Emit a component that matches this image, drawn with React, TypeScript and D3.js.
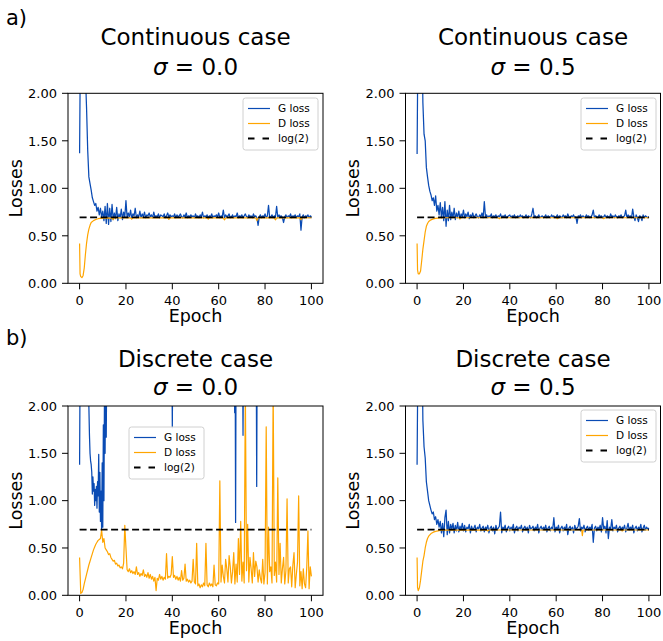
import React from 'react';
import * as d3 from 'd3';

const FONT = '"DejaVu Sans", Verdana, sans-serif';
const G_COLOR = '#0a4bb4';
const D_COLOR = '#ffa500';
const LOG2 = Math.log(2);
const STEP = 0.5; // epochs between stored samples

const X_TICKS = [0, 20, 40, 60, 80, 100];
const Y_TICKS = [0, 0.5, 1, 1.5, 2];
const LEGEND_LABELS = ['G loss', 'D loss', 'log(2)'];

// ---- a) Continuous, sigma = 0.0 : G loss every 0.5 epoch ----
const G_CONT_S00 = [
  1.37, 3.0, 3.0, 2.8, 2.5, 2.2, 1.85, 1.4, 1.12, 1.05, 0.98, 0.9, 0.86, 0.82, 0.84, 0.76, 0.8, 0.72, 0.79, 0.7,
  0.76, 0.66, 0.81, 0.63, 0.84, 0.62, 0.79, 0.65, 0.83, 0.67, 0.74, 0.68, 0.8, 0.66, 0.73, 0.69, 0.78, 0.67, 0.75, 0.7,
  0.87, 0.69, 0.74, 0.7, 0.77, 0.68, 0.73, 0.71, 0.79, 0.69, 0.72, 0.7, 0.76, 0.69, 0.73, 0.7, 0.75, 0.69, 0.72, 0.71,
  0.74, 0.7, 0.72, 0.69, 0.75, 0.7, 0.71, 0.7, 0.73, 0.69, 0.72, 0.71, 0.7, 0.73, 0.69, 0.71, 0.74, 0.7, 0.72, 0.7,
  0.71, 0.7, 0.73, 0.69, 0.72, 0.7, 0.71, 0.73, 0.7, 0.69, 0.72, 0.7, 0.74, 0.69, 0.71, 0.7, 0.72, 0.7, 0.71, 0.69,
  0.73, 0.7, 0.71, 0.69, 0.72, 0.7, 0.75, 0.69, 0.71, 0.7, 0.72, 0.69, 0.71, 0.7, 0.73, 0.69, 0.71, 0.7, 0.72, 0.7,
  0.74, 0.69, 0.71, 0.7, 0.77, 0.69, 0.72, 0.7, 0.71, 0.73, 0.69, 0.7, 0.72, 0.69, 0.71, 0.7, 0.74, 0.69, 0.71, 0.7,
  0.72, 0.69, 0.71, 0.73, 0.7, 0.69, 0.72, 0.7, 0.71, 0.69, 0.73, 0.7, 0.71, 0.69, 0.61, 0.7, 0.72, 0.69, 0.71, 0.7,
  0.73, 0.69, 0.71, 0.82, 0.69, 0.7, 0.72, 0.69, 0.71, 0.7, 0.81, 0.69, 0.72, 0.7, 0.71, 0.69, 0.64, 0.7, 0.72, 0.69,
  0.71, 0.7, 0.73, 0.69, 0.71, 0.7, 0.72, 0.69, 0.71, 0.7, 0.73, 0.56, 0.7, 0.72, 0.69, 0.71, 0.7, 0.72, 0.69, 0.71, 0.7,
];
const D_CONT_S00: [number, number][] = [
  [0, 0.42], [0.2, 0.1], [0.5, 0.07], [1, 0.06], [1.5, 0.08], [2, 0.16], [2.5, 0.3], [3, 0.42], [3.5, 0.51],
  [4, 0.57], [4.5, 0.61], [5, 0.64], [6, 0.66], [7, 0.672], [8, 0.68], [9, 0.683], [10, 0.686], [12, 0.688],
  [14, 0.685], [14.5, 0.67], [15, 0.688], [22, 0.688], [22.5, 0.675], [23, 0.688], [38, 0.688], [38.5, 0.672],
  [39, 0.688], [55, 0.688], [55.5, 0.675], [56, 0.688], [62, 0.688], [62.5, 0.668], [63, 0.688], [76, 0.688],
  [76.5, 0.66], [77, 0.688], [84, 0.688], [84.5, 0.668], [85, 0.688], [95, 0.688], [95.5, 0.67], [96, 0.688],
  [100, 0.69],
];

// ---- a) Continuous, sigma = 0.5 ----
const G_CONT_S05 = [
  1.36, 3.0, 3.0, 3.0, 2.8, 1.9, 1.57, 1.5, 1.22, 1.12, 1.03, 0.97, 0.93, 0.87, 0.9, 0.82, 0.92, 0.76, 0.82, 0.72,
  0.85, 0.69, 0.8, 0.66, 0.86, 0.6, 0.77, 0.66, 0.82, 0.67, 0.75, 0.69, 0.79, 0.67, 0.74, 0.69, 0.76, 0.68, 0.73, 0.7,
  0.77, 0.69, 0.73, 0.7, 0.75, 0.68, 0.72, 0.7, 0.74, 0.69, 0.71, 0.73, 0.7, 0.69, 0.72, 0.7, 0.74, 0.69, 0.86, 0.7,
  0.72, 0.69, 0.71, 0.7, 0.73, 0.69, 0.71, 0.7, 0.72, 0.69, 0.71, 0.7, 0.73, 0.69, 0.71, 0.7, 0.72, 0.69, 0.7, 0.71,
  0.72, 0.69, 0.71, 0.7, 0.72, 0.69, 0.7, 0.71, 0.69, 0.72, 0.7, 0.71, 0.69, 0.7, 0.72, 0.69, 0.71, 0.7, 0.69, 0.73,
  0.79, 0.7, 0.71, 0.69, 0.7, 0.72, 0.69, 0.7, 0.71, 0.69, 0.7, 0.72, 0.69, 0.71, 0.7, 0.69, 0.72, 0.7, 0.71, 0.69,
  0.7, 0.72, 0.69, 0.71, 0.7, 0.69, 0.72, 0.7, 0.71, 0.69, 0.73, 0.7, 0.69, 0.71, 0.7, 0.72, 0.69, 0.7, 0.63, 0.71,
  0.7, 0.72, 0.69, 0.71, 0.7, 0.69, 0.72, 0.7, 0.71, 0.69, 0.7, 0.72, 0.77, 0.69, 0.71, 0.7, 0.69, 0.72, 0.7, 0.71,
  0.69, 0.7, 0.72, 0.69, 0.71, 0.7, 0.69, 0.73, 0.7, 0.71, 0.69, 0.72, 0.7, 0.69, 0.71, 0.7, 0.72, 0.69, 0.7, 0.71,
  0.77, 0.69, 0.72, 0.7, 0.71, 0.69, 0.78, 0.7, 0.66, 0.72, 0.69, 0.65, 0.71, 0.7, 0.66, 0.72, 0.69, 0.71, 0.7, 0.69, 0.7,
];
const D_CONT_S05: [number, number][] = [
  [0, 0.42], [0.2, 0.14], [0.5, 0.1], [1, 0.1], [1.5, 0.13], [2, 0.24], [2.5, 0.36], [3, 0.45], [3.5, 0.54],
  [4, 0.6], [4.5, 0.63], [5, 0.65], [6, 0.668], [7, 0.678], [8, 0.684], [10, 0.688], [12, 0.69], [18, 0.69],
  [18.5, 0.678], [19, 0.69], [35, 0.69], [35.5, 0.68], [36, 0.69], [60, 0.69], [60.5, 0.68], [61, 0.69],
  [80, 0.69], [80.5, 0.68], [81, 0.69], [100, 0.69],
];

// ---- b) Discrete, sigma = 0.0 : G loss is mostly above the plotted range ----
const G_DISC_S00: [number, number][] = [
  [0, 1.38], [0.25, 2.6], [3.75, 2.6], [4.0, 2.0], [4.25, 1.7], [4.5, 1.5], [4.75, 1.42], [5, 1.38], [5.25, 1.3],
  [5.5, 1.07], [5.75, 1.25], [6, 1.1], [6.25, 1.18], [6.5, 0.95], [6.75, 1.12], [7, 1.0], [7.25, 1.15], [7.5, 0.92],
  [7.75, 1.2], [8, 1.05], [8.25, 1.49], [8.5, 0.88], [8.75, 1.3], [9, 0.78], [9.25, 1.1], [9.5, 0.7], [9.75, 1.4],
  [10, 0.72], [10.25, 1.8], [10.5, 1.0], [10.75, 2.2], [11, 1.5], [11.25, 2.4], [11.5, 1.67], [11.75, 2.6], [12, 2.6],
  [39.8, 2.6], [40, 1.77], [40.2, 2.6], [66.7, 2.6], [66.9, 1.93], [67.1, 2.6], [67.3, 0.77], [67.5, 2.6],
  [70.3, 2.6], [70.5, 1.69], [70.7, 2.6], [76.2, 2.6], [76.4, 1.15], [76.6, 2.6], [100, 2.6],
];
const D_DISC_S00 = [
  0.4, 0.02, 0.03, 0.06, 0.12, 0.17, 0.22, 0.27, 0.32, 0.36, 0.4, 0.44, 0.48, 0.51, 0.54, 0.56, 0.58, 0.59, 0.6, 0.69,
  0.56, 0.6, 0.5, 0.48, 0.46, 0.43, 0.44, 0.4, 0.38, 0.36, 0.37, 0.33, 0.34, 0.31, 0.32, 0.29, 0.3, 0.28, 0.34, 0.74,
  0.5, 0.27, 0.25, 0.28, 0.24, 0.26, 0.23, 0.25, 0.22, 0.3, 0.22, 0.24, 0.2, 0.23, 0.21, 0.27, 0.2, 0.22, 0.19, 0.24,
  0.18, 0.22, 0.17, 0.2, 0.15, 0.19, 0.05, 0.18, 0.16, 0.22, 0.17, 0.2, 0.16, 0.19, 0.17, 0.44, 0.18, 0.2, 0.19, 0.22,
  0.41, 0.19, 0.21, 0.17, 0.2, 0.16, 0.19, 0.15, 0.26, 0.16, 0.18, 0.33, 0.15, 0.17, 0.14, 0.16, 0.13, 0.15, 0.38, 0.14,
  0.12, 0.55, 0.1, 0.12, 0.08, 0.11, 0.09, 0.13, 0.1, 0.55, 0.11, 0.09, 0.13, 0.1, 0.12, 0.09, 0.32, 0.11, 0.1, 0.13,
  0.12, 1.21, 0.14, 0.32, 0.2, 0.13, 0.38, 0.28, 0.14, 0.42, 0.3, 0.13, 0.25, 0.45, 0.12, 0.33, 0.14, 0.6, 0.22, 0.78,
  0.15, 0.35, 0.13, 2.2, 0.26, 0.75, 0.14, 0.4, 0.28, 0.13, 0.45, 0.2, 0.36, 0.3, 0.14, 0.27, 0.18, 0.13, 0.38, 0.12,
  0.24, 1.78, 0.12, 0.72, 0.25, 0.3, 0.13, 2.2, 0.21, 0.35, 0.14, 1.24, 0.22, 0.55, 0.13, 0.28, 0.4, 0.12, 0.26, 1.02,
  0.13, 0.28, 0.3, 0.09, 0.32, 0.45, 0.08, 0.22, 0.35, 1.05, 0.1, 0.25, 0.07, 0.28, 0.12, 0.08, 0.3, 0.68, 0.07, 0.3, 0.2,
];

// ---- b) Discrete, sigma = 0.5 ----
const G_DISC_S05 = [
  1.38, 3.0, 3.0, 3.0, 2.9, 1.85, 1.57, 1.45, 1.2, 1.1, 1.0, 0.95, 0.9, 0.86, 0.88, 0.8, 0.83, 0.75, 0.8, 0.72,
  0.78, 0.66, 0.76, 0.62, 0.82, 0.9, 0.64, 0.78, 0.66, 0.75, 0.7, 0.76, 0.66, 0.74, 0.68, 0.77, 0.67, 0.73, 0.7, 0.76,
  0.68, 0.74, 0.67, 0.72, 0.7, 0.75, 0.66, 0.73, 0.69, 0.71, 0.74, 0.67, 0.72, 0.7, 0.75, 0.68, 0.71, 0.73, 0.67, 0.72,
  0.7, 0.74, 0.66, 0.71, 0.73, 0.68, 0.72, 0.65, 0.74, 0.69, 0.71, 0.73, 0.88, 0.66, 0.72, 0.7, 0.74, 0.67, 0.71, 0.73,
  0.68, 0.72, 0.7, 0.75, 0.66, 0.71, 0.73, 0.68, 0.72, 0.7, 0.74, 0.67, 0.71, 0.73, 0.69, 0.72, 0.66, 0.74, 0.7, 0.71,
  0.73, 0.68, 0.72, 0.7, 0.75, 0.66, 0.71, 0.73, 0.69, 0.72, 0.7, 0.74, 0.67, 0.71, 0.73, 0.68, 0.72, 0.7, 0.82, 0.67,
  0.72, 0.7, 0.74, 0.66, 0.71, 0.73, 0.68, 0.72, 0.7, 0.75, 0.64, 0.71, 0.73, 0.69, 0.72, 0.66, 0.74, 0.7, 0.71, 0.73,
  0.81, 0.68, 0.72, 0.7, 0.74, 0.67, 0.71, 0.73, 0.69, 0.72, 0.7, 0.75, 0.56, 0.71, 0.73, 0.68, 0.72, 0.7, 0.74, 0.67,
  0.82, 0.7, 0.73, 0.66, 0.79, 0.6, 0.72, 0.7, 0.8, 0.68, 0.72, 0.7, 0.74, 0.67, 0.71, 0.73, 0.69, 0.72, 0.7, 0.74,
  0.67, 0.71, 0.76, 0.69, 0.72, 0.7, 0.74, 0.66, 0.71, 0.73, 0.68, 0.72, 0.7, 0.75, 0.67, 0.71, 0.74, 0.69, 0.72, 0.7, 0.71,
];
const D_DISC_S05: [number, number][] = [
  [0, 0.4], [0.2, 0.08], [0.5, 0.05], [1, 0.08], [1.5, 0.16], [2, 0.26], [2.5, 0.36], [3, 0.42], [3.5, 0.5],
  [4, 0.56], [4.5, 0.6], [5, 0.625], [6, 0.652], [7, 0.667], [8, 0.676], [9, 0.681], [10, 0.685], [12, 0.688],
  [30, 0.69], [30.5, 0.68], [31, 0.69], [71, 0.69], [71.3, 0.63], [71.6, 0.69], [88, 0.69], [88.5, 0.68],
  [89, 0.69], [100, 0.69],
];

const stepped = (arr: number[]): [number, number][] => arr.map((v, i) => [i * STEP, v]);

type PanelDef = {
  id: string;
  left: number; right: number; top: number; bottom: number;
  title: string; sigma: string; titleY: [number, number];
  g: [number, number][]; d: [number, number][];
  legend: [number, number];
};

const TOP_ROW = { top: 93.3, bottom: 283.3, titleY: [45, 75] as [number, number] };
const BOT_ROW = { top: 406, bottom: 595.3, titleY: [366.5, 394.5] as [number, number] };
const LEFT_COL = { left: 68, right: 323 };
const RIGHT_COL = { left: 405.5, right: 660.5 };

const PANELS: PanelDef[] = [
  { id: 'a1', ...LEFT_COL, ...TOP_ROW, title: 'Continuous case', sigma: '0.0', g: stepped(G_CONT_S00), d: D_CONT_S00, legend: [243, 98] },
  { id: 'a2', ...RIGHT_COL, ...TOP_ROW, title: 'Continuous case', sigma: '0.5', g: stepped(G_CONT_S05), d: D_CONT_S05, legend: [581, 98] },
  { id: 'b1', ...LEFT_COL, ...BOT_ROW, title: 'Discrete case', sigma: '0.0', g: G_DISC_S00, d: stepped(D_DISC_S00), legend: [129, 427] },
  { id: 'b2', ...RIGHT_COL, ...BOT_ROW, title: 'Discrete case', sigma: '0.5', g: stepped(G_DISC_S05), d: D_DISC_S05, legend: [581, 410] },
];

const fmt = d3.format('.2f');

function Panel({ p }: { p: PanelDef }) {
  const x = d3.scaleLinear().domain([-5, 105]).range([p.left, p.right]);
  const y = d3.scaleLinear().domain([0, 2]).range([p.bottom, p.top]);
  const line = d3.line<[number, number]>().x((d) => x(d[0])).y((d) => y(d[1]));
  const cx = (p.left + p.right) / 2;
  const cy = (p.top + p.bottom) / 2;
  const [lx, ly] = p.legend;
  return (
    <g>
      <defs>
        <clipPath id={`clip-${p.id}`}>
          <rect x={p.left} y={p.top} width={p.right - p.left} height={p.bottom - p.top} />
        </clipPath>
      </defs>
      <text x={cx} y={p.titleY[0]} textAnchor="middle" fontSize={23} fontFamily={FONT}>{p.title}</text>
      <text x={cx} y={p.titleY[1]} textAnchor="middle" fontSize={23} fontFamily={FONT}>
        <tspan fontStyle="italic">σ</tspan>
        <tspan>{` = ${p.sigma}`}</tspan>
      </text>
      <g clipPath={`url(#clip-${p.id})`}>
        <path d={line(p.g) || ''} fill="none" stroke={G_COLOR} strokeWidth={1.25} strokeLinejoin="round" />
        <path d={line(p.d) || ''} fill="none" stroke={D_COLOR} strokeWidth={1.2} strokeLinejoin="round" />
        <line x1={x(0)} x2={x(100)} y1={y(LOG2)} y2={y(LOG2)} stroke="#000" strokeWidth={1.8} strokeDasharray="7,3.5" />
      </g>
      <rect x={p.left} y={p.top} width={p.right - p.left} height={p.bottom - p.top} fill="none" stroke="#000" strokeWidth={1} />
      {X_TICKS.map((t) => (
        <g key={`x${t}`}>
          <line x1={x(t)} x2={x(t)} y1={p.bottom} y2={p.bottom + 6} stroke="#000" strokeWidth={1} />
          <text x={x(t)} y={p.bottom + 22} textAnchor="middle" fontSize={13} fontFamily={FONT}>{t}</text>
        </g>
      ))}
      {Y_TICKS.map((t) => (
        <g key={`y${t}`}>
          <line x1={p.left - 6} x2={p.left} y1={y(t)} y2={y(t)} stroke="#000" strokeWidth={1} />
          <text x={p.left - 11} y={y(t) + 4.7} textAnchor="end" fontSize={13} fontFamily={FONT}>{fmt(t)}</text>
        </g>
      ))}
      <text x={cx} y={p.bottom + 39} textAnchor="middle" fontSize={17.5} fontFamily={FONT}>Epoch</text>
      <text transform={`translate(${p.left - 46.5},${cy}) rotate(-90)`} textAnchor="middle" fontSize={17.5} fontFamily={FONT}>Losses</text>
      <g>
        <rect x={lx} y={ly} width={75} height={52} rx={2.5} fill="#fff" fillOpacity={0.85} stroke="#d0d0d0" strokeWidth={1} />
        {LEGEND_LABELS.map((lab, i) => {
          const ry = ly + 10.5 + i * 15;
          const col = i === 0 ? G_COLOR : i === 1 ? D_COLOR : '#000';
          return (
            <g key={lab}>
              <line x1={lx + 5} x2={lx + 27} y1={ry} y2={ry} stroke={col} strokeWidth={i === 2 ? 1.8 : 1.2}
                strokeDasharray={i === 2 ? '6.5,8' : undefined} />
              <text x={lx + 35} y={ry + 3.8} fontSize={10.5} fontFamily={FONT}>{lab}</text>
            </g>
          );
        })}
      </g>
    </g>
  );
}

export default function App() {
  return (
    <svg width={663} height={641} style={{ position: 'absolute', left: 0, top: 0, background: '#fff' }}
      xmlns="http://www.w3.org/2000/svg">
      <rect width={663} height={641} fill="#fff" />
      <text x={6} y={25} fontSize={21} fontFamily={FONT}>a)</text>
      <text x={6} y={345} fontSize={21} fontFamily={FONT}>b)</text>
      {PANELS.map((p) => <Panel key={p.id} p={p} />)}
    </svg>
  );
}
